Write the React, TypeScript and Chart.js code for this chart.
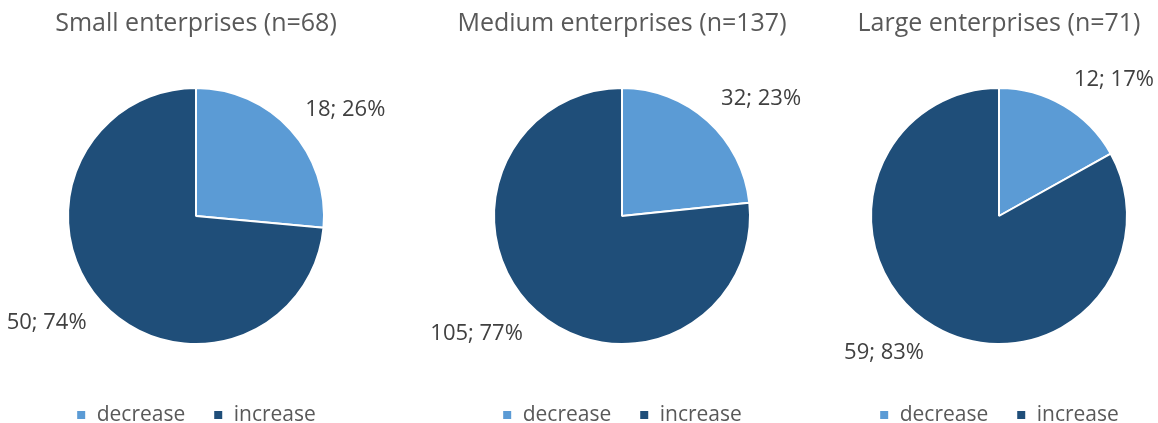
import React, { useEffect, useRef } from "react";
import { Chart, registerables } from "chart.js";

Chart.register(...registerables);

const categories = ["decrease", "increase"];
const titles = ["Small enterprises (n=68)", "Medium enterprises (n=137)", "Large enterprises (n=71)"];
const smallValues = [18, 50];
const mediumValues = [32, 105];
const largeValues = [12, 59];

const COLORS = ["#5B9BD5", "#1F4E79"];
const FONT = "'Open Sans', 'DejaVu Sans', sans-serif";

const labelPlugin = {
  id: "pieLabels",
  afterDatasetsDraw(chart: any) {
    const { ctx } = chart;
    const meta = chart.getDatasetMeta(0);
    const data = chart.data.datasets[0].data as number[];
    const total = data.reduce((a, b) => a + b, 0);
    ctx.save();
    ctx.font = `22px ${FONT}`;
    ctx.fillStyle = "#404040";
    ctx.textBaseline = "middle";
    meta.data.forEach((arc: any, i: number) => {
      const { x, y, startAngle, endAngle, outerRadius } = arc.getProps(
        ["x", "y", "startAngle", "endAngle", "outerRadius"],
        true
      );
      const mid = (startAngle + endAngle) / 2;
      const cos = Math.cos(mid);
      const sin = Math.sin(mid);
      const text = `${data[i]}; ${Math.round((data[i] / total) * 100)}%`;
      const w = ctx.measureText(text).width;
      const lx = x + (outerRadius + 20) * cos;
      const ly = y + (outerRadius + 21) * sin + 9 * sin;
      let left = cos >= 0 ? lx : lx - w;
      if (left + w > chart.width - 2) left = chart.width - 2 - w;
      if (left < 4) left = 4;
      ctx.textAlign = "left";
      ctx.fillText(text, left, ly);
    });
    ctx.restore();
  },
};

function PieChart(props: { title: string; values: number[]; left: number; width: number; padRight: number }) {
  const ref = useRef<HTMLCanvasElement>(null);
  useEffect(() => {
    if (!ref.current) return;
    const chart = new Chart(ref.current, {
      type: "pie",
      data: {
        labels: categories,
        datasets: [
          {
            data: props.values,
            backgroundColor: COLORS,
            borderColor: "#ffffff",
            borderWidth: 2,
          },
        ],
      },
      options: {
        animation: false,
        responsive: false,
        radius: 128,
        layout: { padding: { left: 0, right: props.padRight, top: 0, bottom: 0 } },
        plugins: {
          title: {
            display: true,
            text: props.title,
            color: "#595959",
            font: { family: FONT, size: 25, weight: "normal" },
            padding: { top: 9, bottom: 16.5 },
          },
          legend: {
            display: true,
            position: "bottom",
            maxHeight: 46.5,
            labels: {
              color: "#595959",
              font: { family: FONT, size: 21 },
              boxWidth: 10,
              boxHeight: 10,
              padding: 28,
            },
          },
          tooltip: { enabled: false },
        },
      } as any,
      plugins: [labelPlugin],
    });
    return () => chart.destroy();
  }, []);
  return (
    <canvas
      ref={ref}
      width={props.width}
      height={423}
      style={{ position: "absolute", left: props.left, top: 0, width: props.width, height: 423 }}
    />
  );
}

export default function App() {
  return (
    <div
      style={{
        position: "absolute",
        left: 0,
        top: 0,
        width: 1158,
        height: 423,
        overflow: "hidden",
        background: "#ffffff",
      }}
    >
      <PieChart title={titles[0]} values={smallValues} left={0} width={420} padRight={28} />
      <PieChart title={titles[1]} values={mediumValues} left={426} width={420} padRight={28} />
      <PieChart title={titles[2]} values={largeValues} left={840} width={318} padRight={0} />
    </div>
  );
}
